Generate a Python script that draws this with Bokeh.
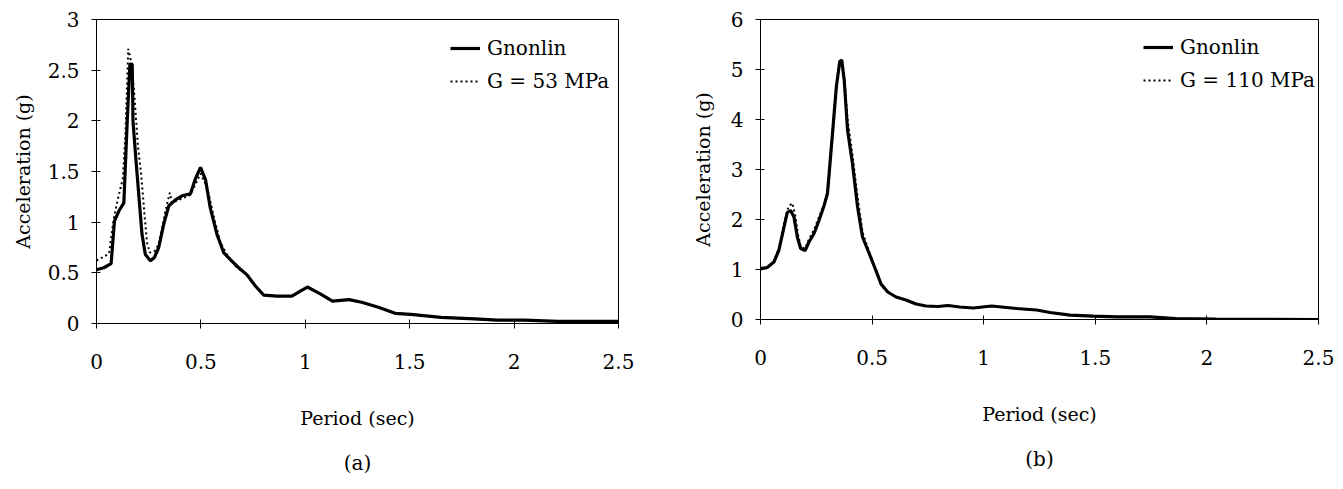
from bokeh.plotting import figure
from bokeh.layouts import row
from bokeh.models import Range1d, FixedTicker, CustomJSTickFormatter, Legend, LegendItem, Title
from bokeh.embed import file_html
from bokeh.resources import INLINE

# ---------------- data: panel (a) ----------------
a_gnonlin_x = [0, 0.035, 0.07, 0.086, 0.107, 0.131, 0.147, 0.160, 0.171, 0.175, 0.191, 0.218, 0.234,
               0.258, 0.277, 0.298, 0.322, 0.346, 0.378, 0.41, 0.45, 0.474, 0.498, 0.522, 0.545, 0.577,
               0.609, 0.641, 0.681, 0.721, 0.761, 0.801, 0.864, 0.936, 0.976, 1.01, 1.074, 1.13, 1.21,
               1.27, 1.35, 1.43, 1.505, 1.65, 1.81, 1.92, 2.05, 2.21, 2.37, 2.5]
a_gnonlin_y = [0.53, 0.55, 0.59, 1.01, 1.11, 1.19, 1.99, 2.56, 2.56, 1.99, 1.56, 0.88, 0.68,
               0.62, 0.65, 0.75, 0.98, 1.16, 1.22, 1.26, 1.28, 1.43, 1.54, 1.42, 1.14, 0.88,
               0.70, 0.63, 0.55, 0.48, 0.37, 0.28, 0.27, 0.27, 0.32, 0.36, 0.29, 0.22, 0.235,
               0.21, 0.16, 0.10, 0.09, 0.06, 0.046, 0.033, 0.033, 0.02, 0.02, 0.02]
a_g53_x = [0, 0.035, 0.06, 0.083, 0.107, 0.126, 0.139, 0.152, 0.163, 0.179, 0.198, 0.214, 0.23,
           0.242, 0.255, 0.277, 0.298, 0.314, 0.33, 0.351, 0.362, 0.394, 0.45, 0.498, 0.53, 0.56,
           0.593, 0.625, 0.673, 0.705, 0.761, 0.801, 0.864, 0.936, 0.976, 1.01, 1.074, 1.13, 1.21,
           1.27, 1.35, 1.43, 1.505, 1.65, 1.81, 1.92, 2.05, 2.21, 2.37, 2.5]
a_g53_y = [0.62, 0.66, 0.69, 1.04, 1.27, 1.43, 1.88, 2.71, 2.61, 2.32, 1.76, 1.47, 1.07,
           0.80, 0.70, 0.71, 0.78, 0.94, 1.11, 1.29, 1.19, 1.22, 1.27, 1.48, 1.34, 1.07,
           0.80, 0.68, 0.55, 0.51, 0.37, 0.28, 0.27, 0.27, 0.32, 0.36, 0.29, 0.22, 0.235,
           0.21, 0.16, 0.10, 0.09, 0.06, 0.046, 0.033, 0.033, 0.02, 0.02, 0.02]

# ---------------- data: panel (b) ----------------
b_gnonlin_x = [0, 0.03, 0.06, 0.082, 0.105, 0.12, 0.135, 0.15, 0.165, 0.18, 0.2, 0.217, 0.24, 0.262,
               0.285, 0.3, 0.31, 0.325, 0.34, 0.355, 0.364, 0.375, 0.39, 0.412, 0.435, 0.457, 0.487,
               0.517, 0.54, 0.57, 0.607, 0.652, 0.697, 0.742, 0.795, 0.84, 0.892, 0.954, 1.035,
               1.147, 1.237, 1.297, 1.387, 1.49, 1.595, 1.745, 1.86, 2.04, 2.5]
b_gnonlin_y = [1.02, 1.04, 1.15, 1.38, 1.84, 2.14, 2.18, 2.05, 1.65, 1.42, 1.38, 1.55, 1.72, 1.98,
               2.28, 2.52, 3.05, 3.85, 4.66, 5.16, 5.19, 4.79, 3.79, 3.12, 2.25, 1.65, 1.32,
               0.98, 0.71, 0.55, 0.45, 0.39, 0.31, 0.27, 0.26, 0.28, 0.25, 0.23, 0.27,
               0.22, 0.19, 0.14, 0.087, 0.067, 0.053, 0.053, 0.02, 0.01, 0.0]
b_g110_x = [0, 0.03, 0.06, 0.082, 0.105, 0.125, 0.142, 0.155, 0.168, 0.18, 0.2, 0.217, 0.24, 0.262,
            0.285, 0.3, 0.31, 0.325, 0.34, 0.355, 0.364, 0.375, 0.39, 0.412, 0.435, 0.457, 0.487,
            0.517, 0.54, 0.57, 0.607, 0.652, 0.697, 0.742, 0.795, 0.84, 0.892, 0.954, 1.035,
            1.147, 1.237, 1.297, 1.387, 1.49, 1.595, 1.745, 1.86, 2.04, 2.5]
b_g110_y = [1.0, 1.03, 1.16, 1.42, 1.92, 2.25, 2.33, 2.1, 1.7, 1.45, 1.42, 1.6, 1.8, 2.05,
            2.3, 2.55, 3.0, 3.9, 4.7, 5.1, 5.12, 4.85, 4.0, 3.3, 2.45, 1.75, 1.35,
            1.0, 0.72, 0.55, 0.45, 0.39, 0.31, 0.27, 0.26, 0.28, 0.25, 0.23, 0.27,
            0.22, 0.19, 0.14, 0.087, 0.067, 0.053, 0.053, 0.02, 0.01, 0.0]

x_ticks = [0, 0.5, 1, 1.5, 2, 2.5]
a_y_ticks = [0, 0.5, 1, 1.5, 2, 2.5, 3]
b_y_ticks = [0, 1, 2, 3, 4, 5, 6]

FONT = "DejaVu Serif"


def panel(xs1, ys1, xs2, ys2, ymax, yticks, label2, caption,
          left, right, top, frame_w, frame_h, bottom, leg_x, leg_y, ylab_standoff):
    p = figure(frame_width=frame_w, frame_height=frame_h, output_backend="svg", toolbar_location=None,
               x_range=Range1d(0, 2.5), y_range=Range1d(0, ymax),
               min_border_left=left, min_border_right=right, min_border_top=top,
               min_border_bottom=bottom)
    p.grid.visible = False
    p.outline_line_color = "black"
    p.outline_line_width = 1
    p.background_fill_color = "white"
    p.border_fill_color = "white"

    r2 = p.line(xs2, ys2, line_color="black", line_width=2, line_dash="2 3")
    r1 = p.line(xs1, ys1, line_color="black", line_width=3.2)

    fmt = CustomJSTickFormatter(code="return tick.toString();")
    for ax, ticks in ((p.xaxis[0], x_ticks), (p.yaxis[0], yticks)):
        ax.ticker = FixedTicker(ticks=ticks)
        ax.formatter = fmt
        ax.minor_tick_line_color = None
        ax.major_tick_in = 4
        ax.major_tick_out = 5
        ax.axis_line_color = "black"
        ax.major_tick_line_color = "black"
        ax.major_label_text_font = FONT
        ax.major_label_text_font_size = "20px"
        ax.major_label_text_color = "black"
        ax.axis_label_text_font = FONT
        ax.axis_label_text_font_size = "19px"
        ax.axis_label_text_font_style = "normal"
        ax.axis_label_text_color = "black"

    p.xaxis.axis_label = "Period (sec)"
    p.xaxis.major_label_standoff = 25
    p.xaxis.axis_label_standoff = 35
    p.yaxis.axis_label = "Acceleration (g)"
    p.yaxis.major_label_standoff = 12
    p.yaxis.axis_label_standoff = ylab_standoff

    legend = Legend(items=[LegendItem(label="Gnonlin", renderers=[r1]),
                           LegendItem(label=label2, renderers=[r2])],
                    location=(leg_x, leg_y))
    legend.border_line_color = None
    legend.background_fill_alpha = 0
    legend.padding = 0
    legend.margin = 0
    legend.spacing = 7
    legend.glyph_width = 30
    legend.glyph_height = 26
    legend.label_height = 26
    legend.label_standoff = 7
    legend.label_text_font = FONT
    legend.label_text_font_size = "20px"
    legend.label_text_color = "black"
    p.add_layout(legend)

    t = Title(text=caption, align="center", text_font=FONT, text_font_size="20px",
              text_font_style="normal", text_color="black", standoff=35)
    p.add_layout(t, "below")
    return p


pa = panel(a_gnonlin_x, a_gnonlin_y, a_g53_x, a_g53_y, 3, a_y_ticks, "G = 53 MPa", "(a)",
           left=96, right=42, top=18, frame_w=522, frame_h=304, bottom=163, leg_x=354, leg_y=229,
           ylab_standoff=11)
pb = panel(b_gnonlin_x, b_gnonlin_y, b_g110_x, b_g110_y, 6, b_y_ticks, "G = 110 MPa", "(b)",
           left=100, right=17, top=19, frame_w=558, frame_h=300, bottom=166, leg_x=383, leg_y=226,
           ylab_standoff=14)

layout = row(pa, pb)
open("out.html", "w").write(file_html(layout, INLINE))
